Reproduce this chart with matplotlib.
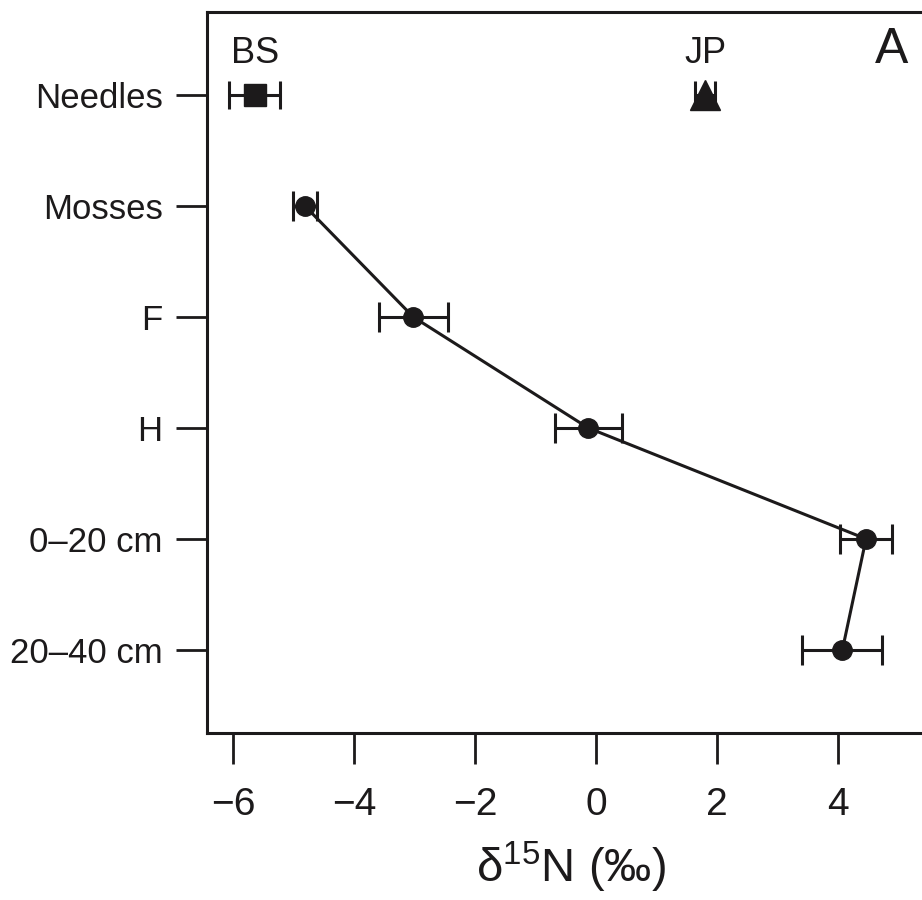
import matplotlib
matplotlib.use("Agg")
import matplotlib.pyplot as plt

plt.rcParams['font.family'] = ['Liberation Sans', 'DejaVu Sans']
plt.rcParams['mathtext.fontset'] = 'custom'
plt.rcParams['mathtext.rm'] = 'Liberation Sans'

# categories top to bottom
layers = ['Needles', 'Mosses', 'F', 'H', '0\u201320 cm', '20\u201340 cm']

# profile values (mean and error) for Mosses..20-40 cm
profile_layers = ['Mosses', 'F', 'H', '0\u201320 cm', '20\u201340 cm']
profile_d15n = [-4.81, -3.02, -0.13, 4.46, 4.07]
profile_err = [0.20, 0.57, 0.55, 0.43, 0.66]

# needles by species
species = ['BS', 'JP']
needle_d15n = [-5.64, 1.80]
needle_err = [0.42, 0.17]
needle_markers = ['s', '^']
needle_ms = [16, 22]

xticks = [-6, -4, -2, 0, 2, 4]
ink = '#1c1a1b'

fig = plt.figure(figsize=(9.22, 9.0), dpi=100)
ax = fig.add_axes([207/922, 1-733/900, (935-207)/922, (733-12)/900])

ypos = {name: i for i, name in enumerate(layers)}
py = [ypos[l] for l in profile_layers]

ax.errorbar(profile_d15n, py, xerr=profile_err, fmt='o-', color=ink,
            ms=14, lw=2.2, elinewidth=2.2, capsize=11, capthick=2.2)

for sp, v, e, m, s in zip(species, needle_d15n, needle_err, needle_markers, needle_ms):
    ax.errorbar([v], [ypos['Needles']], xerr=[e], fmt=m, color=ink,
                ms=s, elinewidth=2.2, capsize=10, capthick=2.2)
    ax.text(v, ypos['Needles'] - 0.29, sp, ha='center', va='baseline',
            fontsize=26, color=ink)

ax.text(4.88, -0.29, 'A', ha='center', va='baseline', fontsize=36, color=ink)

ax.set_xlim(-6.43, 5.6)
ax.set_ylim(5.75, -0.75)
ax.set_yticks(range(len(layers)))
ax.set_yticklabels(layers, fontsize=25)
ax.set_xticks(xticks)
ax.set_xticklabels(['\u2212%d' % abs(t) if t < 0 else str(t) for t in xticks],
                   fontsize=28)
ax.tick_params(direction='out', length=22, width=2, color=ink,
               labelcolor=ink, pad=10)
ax.tick_params(axis='x', pad=17)
ax.set_xlabel('\u03b4$^{\\mathregular{15}}$N (\u2030)', fontsize=34,
              color=ink, labelpad=12)
for sp in ax.spines.values():
    sp.set_linewidth(2.2)
    sp.set_color(ink)

fig.savefig('out.png', dpi=100)
